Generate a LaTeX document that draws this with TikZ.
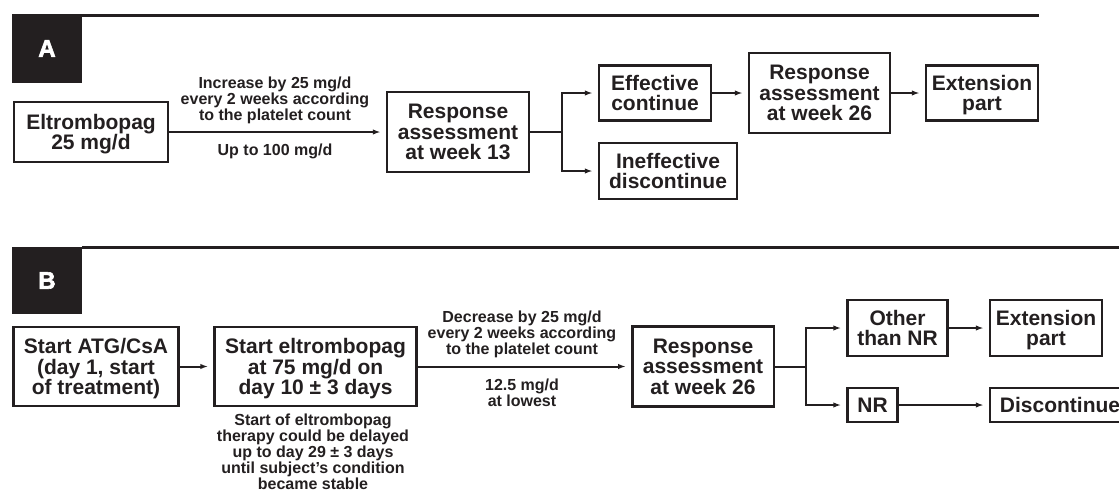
\documentclass[tikz,border=0pt]{standalone}
\usepackage{fontspec}
\setmainfont{Liberation Sans}
\newfontfamily\heavyfont[FakeBold=2.5]{Liberation Sans}
\usetikzlibrary{arrows.meta}
\definecolor{ink}{HTML}{231F20}
\begin{document}
\begin{tikzpicture}[x=1pt,y=-1pt,
  box/.style={draw=ink, line width=2.5pt, text=ink, font=\fontsize{21}{20.5}\selectfont\bfseries, align=center, inner sep=0pt, text depth=0pt},
  note/.style={text=ink, font=\fontsize{16}{15.7}\selectfont\bfseries, align=center, inner sep=0pt},
  arr/.style={draw=ink, line width=2pt, -{Latex[length=8pt,width=5.5pt]}, shorten >=5pt},
  conn/.style={draw=ink, line width=2pt},
  tag/.style={fill=ink, text=white, font=\fontsize{24}{24}\selectfont\heavyfont\bfseries, inner sep=0pt, minimum width=70pt},
  rule/.style={draw=ink, line width=2.5pt}]
\useasboundingbox (0,0) rectangle (1119,493);
\clip (0,0) rectangle (1119,493);

% ---------- Panel A ----------
\node[tag, minimum height=69pt] (tagA) at (47,48.5) {A};
\coordinate (ra) at (1038.6,15.25);
\draw[rule] (tagA.north east |- ra) -- (ra);

\node[box, minimum width=154pt, minimum height=60pt] (eltro) at (91,132) {Eltrombopag\\25 mg/d};
\node[box, minimum width=142pt, minimum height=80pt] (r13) at (458,132) {Response\\assessment\\at week 13};
\node[box, minimum width=112pt, minimum height=55pt] (eff) at (655,93) {Effective\\continue};
\node[box, minimum width=138pt, minimum height=56pt] (ineff) at (668,171) {Ineffective\\discontinue};
\node[box, minimum width=141pt, minimum height=80pt] (r26) at (819.5,93) {Response\\assessment\\at week 26};
\node[box, minimum width=112pt, minimum height=55pt] (ext) at (982,93) {Extension\\part};

\node[note] (incr) at (275,100.5) {Increase by 25 mg/d\\every 2 weeks according\\to the platelet count};
\node[note, anchor=base] (upto) at (275,155) {Up to 100 mg/d};

\draw[arr] (eltro.east) -- (r13.west);
\coordinate (ja) at (562,132);
\draw[conn] (r13.east) -- (ja);
\draw[arr] (ja) |- (eff.west);
\draw[arr] (ja) |- (ineff.west);
\draw[arr] (eff.east) -- (r26.west);
\draw[arr] (r26.east) -- (ext.west);

% ---------- Panel B ----------
\node[tag, minimum height=67pt] (tagB) at (47,280.5) {B};
\coordinate (rb) at (1125,247.5);
\draw[rule] (tagB.north east |- rb) -- (rb);

\node[box, minimum width=165pt, minimum height=79pt] (atg) at (96,366.5) {Start ATG/CsA\\(day 1, start\\of treatment)};
\node[box, minimum width=202pt, minimum height=79pt] (se) at (315.5,366.5) {Start eltrombopag\\at 75 mg/d on\\day 10 ± 3 days};
\node[box, minimum width=141.5pt, minimum height=80pt] (r26b) at (703,366.5) {Response\\assessment\\at week 26};
\node[box, minimum width=100pt, minimum height=56pt] (other) at (897.5,328) {Other\\than NR};
\node[box, minimum width=50pt, minimum height=34pt] (nr) at (872.5,405) {NR};
\node[box, minimum width=112pt, minimum height=56pt] (extb) at (1046,328) {Extension\\part};
\node[box, minimum width=140pt, minimum height=34pt] (disc) at (1060,405) {Discontinue};

\node[note] (decr) at (522,334.5) {Decrease by 25 mg/d\\every 2 weeks according\\to the platelet count};
\node[note] (low) at (522,392.5) {12.5 mg/d\\at lowest};
\node[note, font=\fontsize{16}{16}\selectfont\bfseries] (delay) at (313,452) {Start of eltrombopag\\therapy could be delayed\\up to day 29 ± 3 days\\until subject’s condition\\became stable};

\draw[arr] (atg.east) -- (se.west);
\draw[arr] (se.east) -- (r26b.west);
\coordinate (jb) at (806,366.5);
\draw[conn] (r26b.east) -- (jb);
\draw[arr] (jb) |- (other.west);
\draw[arr] (jb) |- (nr.west);
\draw[arr] (other.east) -- (extb.west);
\draw[arr] (nr.east) -- (disc.west);
\end{tikzpicture}
\end{document}
